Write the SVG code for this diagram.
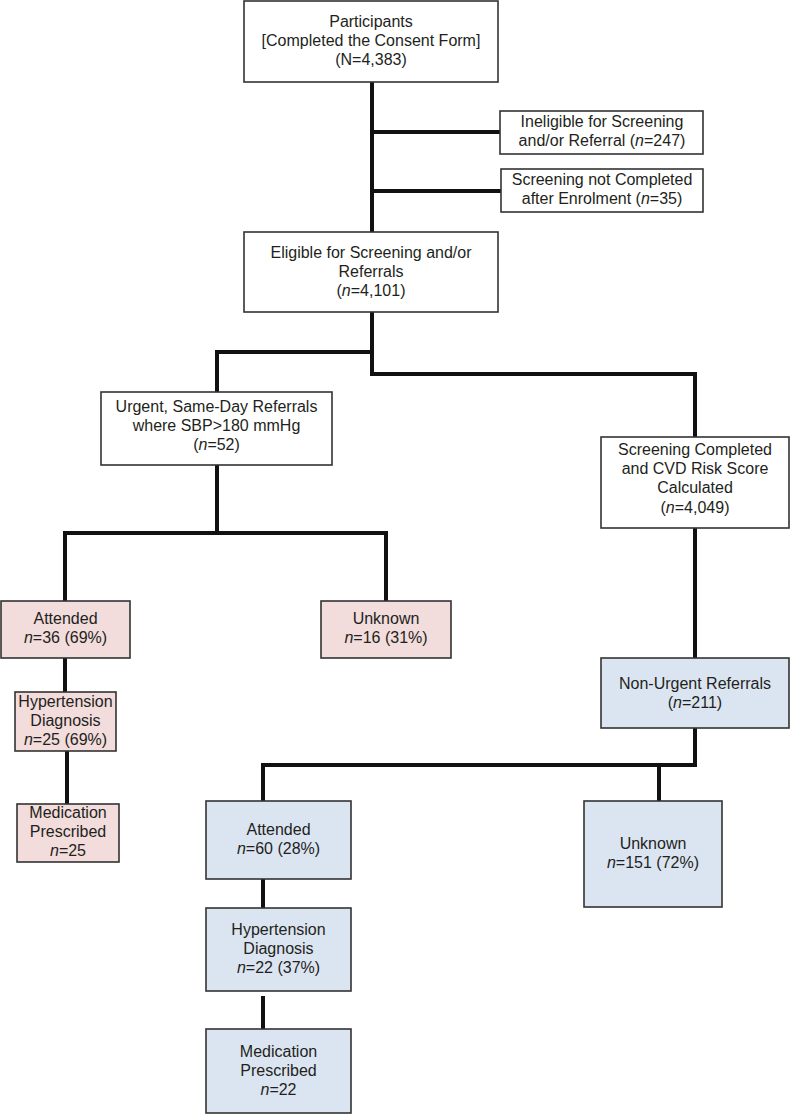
<svg xmlns="http://www.w3.org/2000/svg" width="790" height="1115" viewBox="0 0 790 1115">
<style>
.box{stroke:#333;stroke-width:1.6;fill:#fff}
.pink{fill:#f2dcdc}
.blue{fill:#dbe5f1}
.t{font-family:"Liberation Sans",Arial,sans-serif;font-size:16px;fill:#231f20;text-anchor:middle}
.i{font-style:italic}
.c{stroke:#111;stroke-width:4;fill:none;stroke-linejoin:miter}
</style>
<rect width="790" height="1115" fill="#fff"/>
<g id="connectors">
<path class="c" d="M372,82 V232"/>
<path class="c" d="M372,132 H500"/>
<path class="c" d="M372,191 H501"/>
<path class="c" d="M372,312 V374 H695 V437"/>
<path class="c" d="M372,352 H217 V392"/>
<path class="c" d="M217,465 V533"/>
<path class="c" d="M65,601 V533 H386 V601"/>
<path class="c" d="M65,658 V692"/>
<path class="c" d="M67,751 V804"/>
<path class="c" d="M695,528 V658"/>
<path class="c" d="M695,728 V765 H263 V801"/>
<path class="c" d="M659,765 V801"/>
<path class="c" d="M263,879 V908"/>
<path class="c" d="M263,996 V1029"/>
</g>
<g id="participants">
<rect class="box" x="244" y="1" width="254" height="81"/>
<text class="t" x="371" y="27">Participants</text>
<text class="t" x="371" y="46">[Completed the Consent Form]</text>
<text class="t" x="371" y="65">(N=4,383)</text>
</g>
<g id="ineligible">
<rect class="box" x="500" y="111" width="203" height="43"/>
<text class="t" x="602" y="127">Ineligible for Screening</text>
<text class="t" x="602" y="146">and/or Referral (<tspan class="i">n</tspan>=247)</text>
</g>
<g id="notcompleted">
<rect class="box" x="501" y="169" width="202" height="43"/>
<text class="t" x="602" y="185">Screening not Completed</text>
<text class="t" x="602" y="204">after Enrolment (<tspan class="i">n</tspan>=35)</text>
</g>
<g id="eligible">
<rect class="box" x="244" y="232" width="254" height="80"/>
<text class="t" x="371" y="258">Eligible for Screening and/or</text>
<text class="t" x="371" y="277">Referrals</text>
<text class="t" x="371" y="296">(<tspan class="i">n</tspan>=4,101)</text>
</g>
<g id="urgent">
<rect class="box" x="101" y="392" width="231" height="73"/>
<text class="t" x="216.5" y="412">Urgent, Same-Day Referrals</text>
<text class="t" x="216.5" y="431">where SBP&gt;180 mmHg</text>
<text class="t" x="216.5" y="450">(<tspan class="i">n</tspan>=52)</text>
</g>
<g id="screeningcompleted">
<rect class="box" x="601" y="437" width="188" height="91"/>
<text class="t" x="695" y="455">Screening Completed</text>
<text class="t" x="695" y="474">and CVD Risk Score</text>
<text class="t" x="695" y="493">Calculated</text>
<text class="t" x="695" y="513">(<tspan class="i">n</tspan>=4,049)</text>
</g>
<g id="u-attended">
<rect class="box pink" x="1" y="601" width="129" height="57"/>
<text class="t" x="65.5" y="624">Attended</text>
<text class="t" x="65.5" y="643"><tspan class="i">n</tspan>=36 (69%)</text>
</g>
<g id="u-unknown">
<rect class="box pink" x="321" y="601" width="130" height="57"/>
<text class="t" x="386" y="624">Unknown</text>
<text class="t" x="386" y="643"><tspan class="i">n</tspan>=16 (31%)</text>
</g>
<g id="u-hypertension">
<rect class="box pink" x="15" y="692" width="101" height="59"/>
<text class="t" x="65.5" y="707">Hypertension</text>
<text class="t" x="65.5" y="726">Diagnosis</text>
<text class="t" x="65.5" y="745"><tspan class="i">n</tspan>=25 (69%)</text>
</g>
<g id="u-medication">
<rect class="box pink" x="17" y="804" width="102" height="58"/>
<text class="t" x="68" y="818">Medication</text>
<text class="t" x="68" y="837">Prescribed</text>
<text class="t" x="68" y="856"><tspan class="i">n</tspan>=25</text>
</g>
<g id="nonurgent">
<rect class="box blue" x="601" y="658" width="188" height="70"/>
<text class="t" x="695" y="689">Non-Urgent Referrals</text>
<text class="t" x="695" y="708">(<tspan class="i">n</tspan>=211)</text>
</g>
<g id="n-attended">
<rect class="box blue" x="206" y="801" width="145" height="78"/>
<text class="t" x="278.5" y="835">Attended</text>
<text class="t" x="278.5" y="854"><tspan class="i">n</tspan>=60 (28%)</text>
</g>
<g id="n-unknown">
<rect class="box blue" x="584" y="801" width="138" height="106"/>
<text class="t" x="653" y="849">Unknown</text>
<text class="t" x="653" y="868"><tspan class="i">n</tspan>=151 (72%)</text>
</g>
<g id="n-hypertension">
<rect class="box blue" x="206" y="908" width="145" height="83"/>
<text class="t" x="278.5" y="935">Hypertension</text>
<text class="t" x="278.5" y="954">Diagnosis</text>
<text class="t" x="278.5" y="973"><tspan class="i">n</tspan>=22 (37%)</text>
</g>
<g id="n-medication">
<rect class="box blue" x="206" y="1029" width="145" height="84"/>
<text class="t" x="278.5" y="1057">Medication</text>
<text class="t" x="278.5" y="1076">Prescribed</text>
<text class="t" x="278.5" y="1095"><tspan class="i">n</tspan>=22</text>
</g>
</svg>
